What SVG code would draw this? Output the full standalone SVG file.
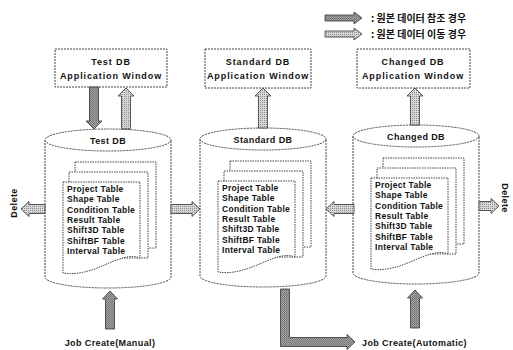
<svg xmlns="http://www.w3.org/2000/svg" width="513" height="350" viewBox="0 0 513 350">
  <defs>
    <!-- grainy fills for the block arrows -->
    <pattern id="hatchDark" width="2" height="2" patternUnits="userSpaceOnUse">
      <rect width="2" height="2" fill="#a8a8a8"/>
      <rect width="1" height="1" fill="#6a6a6a"/>
      <rect x="1" y="1" width="1" height="1" fill="#7a7a7a"/>
    </pattern>
    <pattern id="hatchLight" width="2" height="2" patternUnits="userSpaceOnUse">
      <rect width="2" height="2" fill="#d8d8d8"/>
      <rect width="1" height="1" fill="#8a8a8a"/>
    </pattern>
  </defs>
  <style>
    .box { fill: #fff; stroke: #444; stroke-width: 1; stroke-dasharray: 2 1; }
    .cyl { fill: #fff; stroke: #444; stroke-width: 1; stroke-dasharray: 2 1; }
    .page { fill: #fff; stroke: #444; stroke-width: 1; stroke-dasharray: 1.5 1; }
    .ttl { font-family: "Liberation Sans", Arial, sans-serif; font-weight: bold; font-size: 9px; fill: #111; text-anchor: middle; letter-spacing: 0.9px; }
    .tbl { font-family: "Liberation Sans", Arial, sans-serif; font-weight: bold; font-size: 8.5px; fill: #111; letter-spacing: 0.3px; }
    .lbl { font-family: "Liberation Sans", Arial, sans-serif; font-weight: bold; font-size: 9px; fill: #111; letter-spacing: 0.4px; }
    .leg { font-family: "Noto Sans CJK KR", "Liberation Sans", sans-serif; font-weight: bold; font-size: 10px; fill: #111; }
    .arD { fill: url(#hatchDark); stroke: #333; stroke-width: 0.8; }
    .arL { fill: url(#hatchLight); stroke: #333; stroke-width: 0.8; }
  </style>

  <!-- legend -->
  <g id="legend">
    <path class="arD" d="M325,15 H354 V12 L362,18 L354,24 V21 H325 Z"/>
    <text class="leg" x="371" y="22">: 원본 데이터 참조 경우</text>
    <path class="arL" d="M325,31 H354 V28 L362,34 L354,40 V37 H325 Z"/>
    <text class="leg" x="371" y="38">: 원본 데이터 이동 경우</text>
  </g>

  <!-- application windows -->
  <g id="win-test">
    <rect class="box" x="55" y="49" width="112" height="38"/>
    <text class="ttl" x="111" y="65">Test DB</text>
    <text class="ttl" x="111" y="79">Application Window</text>
  </g>
  <g id="win-standard">
    <rect class="box" x="205" y="49" width="106" height="39"/>
    <text class="ttl" x="258" y="65">Standard DB</text>
    <text class="ttl" x="258" y="79">Application Window</text>
  </g>
  <g id="win-changed">
    <rect class="box" x="357" y="49" width="113" height="39"/>
    <text class="ttl" x="413" y="65">Changed DB</text>
    <text class="ttl" x="413" y="79">Application Window</text>
  </g>

  <!-- databases -->
  <g id="db-test">
    <path class="cyl" d="M45,140 V277 A63,11 0 0 0 171,277 V140 Z"/>
    <ellipse class="cyl" cx="108" cy="140" rx="63" ry="11"/>
    <text class="lbl" x="108" y="144" text-anchor="middle">Test DB</text>
    <rect class="page" x="75" y="162" width="81" height="86"/>
    <rect class="page" x="69" y="172" width="79" height="86"/>
    <path class="page" d="M63,182 H140 V258 C120,250 95,278 63,273 Z"/>
    <text class="tbl" x="67" y="192">Project Table</text>
    <text class="tbl" x="67" y="202.3">Shape Table</text>
    <text class="tbl" x="67" y="212.6">Condition Table</text>
    <text class="tbl" x="67" y="222.9">Result Table</text>
    <text class="tbl" x="67" y="233.2">Shift3D Table</text>
    <text class="tbl" x="67" y="243.5">ShiftBF Table</text>
    <text class="tbl" x="67" y="253.8">Interval Table</text>
  </g>
  <g id="db-standard" transform="translate(155,-1)">
    <path class="cyl" d="M45,140 V277 A63,11 0 0 0 171,277 V140 Z"/>
    <ellipse class="cyl" cx="108" cy="140" rx="63" ry="11"/>
    <text class="lbl" x="108" y="144" text-anchor="middle">Standard DB</text>
    <rect class="page" x="75" y="162" width="81" height="86"/>
    <rect class="page" x="69" y="172" width="79" height="86"/>
    <path class="page" d="M63,182 H140 V258 C120,250 95,278 63,273 Z"/>
    <text class="tbl" x="67" y="192">Project Table</text>
    <text class="tbl" x="67" y="202.3">Shape Table</text>
    <text class="tbl" x="67" y="212.6">Condition Table</text>
    <text class="tbl" x="67" y="222.9">Result Table</text>
    <text class="tbl" x="67" y="233.2">Shift3D Table</text>
    <text class="tbl" x="67" y="243.5">ShiftBF Table</text>
    <text class="tbl" x="67" y="253.8">Interval Table</text>
  </g>
  <g id="db-changed" transform="translate(308,-4)">
    <path class="cyl" d="M45,140 V277 A63,11 0 0 0 171,277 V140 Z"/>
    <ellipse class="cyl" cx="108" cy="140" rx="63" ry="11"/>
    <text class="lbl" x="108" y="144" text-anchor="middle">Changed DB</text>
    <rect class="page" x="75" y="162" width="81" height="86"/>
    <rect class="page" x="69" y="172" width="79" height="86"/>
    <path class="page" d="M63,182 H140 V258 C120,250 95,278 63,273 Z"/>
    <text class="tbl" x="67" y="192">Project Table</text>
    <text class="tbl" x="67" y="202.3">Shape Table</text>
    <text class="tbl" x="67" y="212.6">Condition Table</text>
    <text class="tbl" x="67" y="222.9">Result Table</text>
    <text class="tbl" x="67" y="233.2">Shift3D Table</text>
    <text class="tbl" x="67" y="243.5">ShiftBF Table</text>
    <text class="tbl" x="67" y="253.8">Interval Table</text>
  </g>

  <!-- side and bottom labels -->
  <g id="delete-left">
    <text class="lbl" transform="translate(17,203) rotate(-90)" text-anchor="middle">Delete</text>
  </g>
  <g id="delete-right">
    <text class="lbl" transform="translate(502,198) rotate(90)" text-anchor="middle">Delete</text>
  </g>
  <g id="job-manual">
    <text class="lbl" x="110" y="346" text-anchor="middle" letter-spacing="0.9">Job Create(Manual)</text>
  </g>
  <g id="job-automatic">
    <text class="lbl" x="362" y="346">Job Create(Automatic)</text>
  </g>

  <!-- connectors -->
  <g id="connectors">
    <path class="arD" d="M89.5,87 H98.5 V121 H102 L94,129 L86,121 H89.5 Z"/>
    <path class="arL" d="M121.5,129 V96 H118 L126,88 L134,96 H130.5 V129 Z"/>
    <path class="arL" d="M258.5,128 V96 H255 L263,88 L271,96 H267.5 V128 Z"/>
    <path class="arL" d="M410.5,125 V96 H407 L415,88 L423,96 H419.5 V125 Z"/>
    <path class="arL" d="M45,204.5 H29 V201.5 L21,209 L29,216.5 V213.5 H45 Z"/>
    <path class="arL" d="M171,204.5 H192 V201.5 L200,209 L192,216.5 V213.5 H171 Z"/>
    <path class="arL" d="M354,204.5 H334 V201.5 L326,209 L334,216.5 V213.5 H354 Z"/>
    <path class="arL" d="M479,201.5 H491 V198.5 L499,206 L491,213.5 V210.5 H479 Z"/>
    <path class="arD" d="M105.5,329 V299 H102.5 L110,291 L117.5,299 H114.5 V329 Z"/>
    <path class="arD" d="M280.5,289 H289.5 V337.5 H347 V334.5 L355,342 L347,349.5 V346.5 H280.5 Z"/>
    <path class="arD" d="M410.5,328 V298 H407.5 L415,290 L422.5,298 H419.5 V328 Z"/>
  </g>
</svg>
